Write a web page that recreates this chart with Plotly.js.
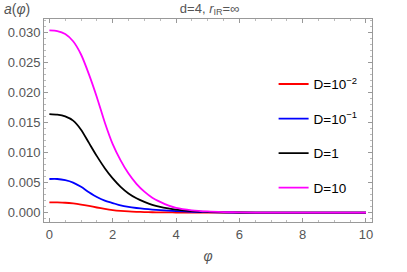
<!DOCTYPE html>
<html>
<head>
<meta charset="utf-8">
<script src="https://cdn.plot.ly/plotly-3.0.1.min.js"></script>
<style>html,body{margin:0;padding:0;background:#fff;}#chart{width:407px;height:272px;}</style>
</head>
<body>
<div id="chart"></div>
<script>
const phi = [0,0.25,0.5,0.75,1,1.25,1.5,1.75,2,2.25,2.5,2.75,3,3.25,3.5,3.75,4,4.5,5,5.5,6,7,8,9,10];
const aD001 = [0.00172,0.0017,0.00165,0.00153,0.00135,0.00112,0.00086,0.00063,0.00044,0.0003,0.0002,0.00014,0.0001,0.00007,0.00005,0.00004,0.00003,0.00001,0,0,0,0,0,0,0];
const aD01  = [0.0056,0.0056,0.0054,0.0050,0.0043,0.0034,0.0026,0.0020,0.0016,0.0012,0.00095,0.00078,0.00064,0.00052,0.00042,0.00033,0.00026,0.00015,0.00008,0.00004,0.00002,0,0,0,0];
const aD1   = [0.0164,0.0163,0.0160,0.0153,0.0138,0.0116,0.0094,0.0074,0.0057,0.0043,0.0032,0.0024,0.0018,0.0013,0.00095,0.0007,0.0005,0.00025,0.00012,0.00006,0.00003,0,0,0,0];
const aD10  = [0.0303,0.0302,0.0297,0.0285,0.0263,0.0230,0.0192,0.0150,0.0114,0.0087,0.0065,0.0048,0.0035,0.0025,0.0018,0.0012,0.0008,0.0004,0.0002,0.0001,0.00005,0,0,0,0];
const names = ['D=10<sup>−2</sup>','D=10<sup>−1</sup>','D=1','D=10'];
const colors = ['#ff0000','#0000ff','#000000','#ff00ff'];
const series = [aD001,aD01,aD1,aD10];
const xTicks = [0,2,4,6,8,10];
const yTicks = [0,0.005,0.01,0.015,0.02,0.025,0.03];

const traces = series.map((s,i)=>({
  x: phi, y: s, type:'scatter', mode:'lines', name: names[i],
  legendgroup: 'g'+i,
  line:{color:colors[i], width:1.8, shape:'spline', smoothing:0.7}
}));

const sans = 'Liberation Sans, Arial, sans-serif';
const tickFont = {family:sans, size:13, color:'#555'};
const layout = {
  width:407, height:272,
  margin:{l:44, r:35, t:19, b:50},
  paper_bgcolor:'#fff', plot_bgcolor:'#fff',
  showlegend:true,
  legend:{x:0.70, y:0.755, xanchor:'left', yanchor:'top', bgcolor:'rgba(0,0,0,0)',
    font:{family:sans, size:13.5, color:'#000'},
    tracegroupgap:14, itemwidth:30},
  title:{text:'d=4, <i>r</i><sub>IR</sub>=∞', x:0.505, xref:'paper', xanchor:'center', y:0.97, yanchor:'middle',
    font:{family:sans, size:13, color:'#555'}},
  xaxis:{range:[-0.17,10.19], tickvals:xTicks, ticks:'inside', ticklen:4, tickcolor:'#999',
    showline:true, linecolor:'#999', linewidth:1, mirror:'allticks', showgrid:false, zeroline:false,
    tickfont:tickFont,
    minor:{dtick:0.5, tick0:0, ticks:'inside', ticklen:2, tickcolor:'#bbb', showgrid:false},
    title:{text:'<i>φ</i>', font:{family:sans, size:14, color:'#555'}, standoff:10}},
  yaxis:{range:[-0.00155,0.0322], tickvals:yTicks, tickformat:'.3f', ticks:'inside', ticklen:4, tickcolor:'#999',
    showline:true, linecolor:'#999', linewidth:1, mirror:'allticks', showgrid:false, zeroline:false,
    tickfont:tickFont,
    minor:{dtick:0.001, tick0:0, ticks:'inside', ticklen:2, tickcolor:'#bbb', showgrid:false}},
  annotations:[{text:'<i>a</i>(<i>φ</i>)', xref:'paper', yref:'paper', x:-0.128, y:1.0, xanchor:'left', yanchor:'bottom',
    showarrow:false, font:{family:sans, size:14, color:'#555'}}]
};
Plotly.newPlot('chart', traces, layout, {displayModeBar:false, staticPlot:true});
</script>
</body>
</html>
